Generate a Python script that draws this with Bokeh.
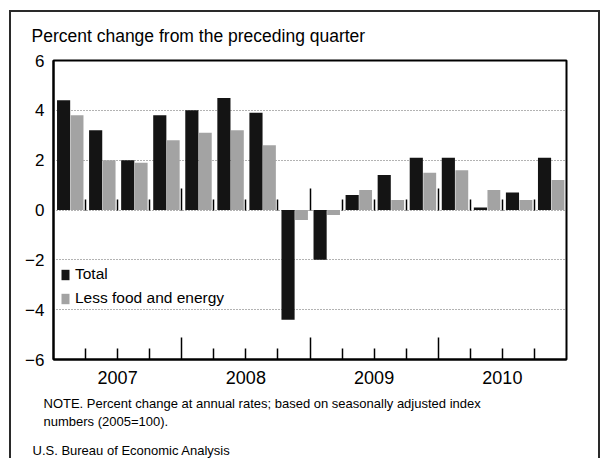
from bokeh.plotting import figure
from bokeh.models import (Range1d, FixedTicker, LinearAxis, Legend, LegendItem,
                          Title, ColumnDataSource)
from bokeh.transform import dodge
from bokeh.embed import file_html
from bokeh.resources import INLINE

# ---------------- data ----------------
quarters = ["2007Q1", "2007Q2", "2007Q3", "2007Q4",
            "2008Q1", "2008Q2", "2008Q3", "2008Q4",
            "2009Q1", "2009Q2", "2009Q3", "2009Q4",
            "2010Q1", "2010Q2", "2010Q3", "2010Q4"]
total = [4.4, 3.2, 2.0, 3.8, 4.0, 4.5, 3.9, -4.4,
         -2.0, 0.6, 1.4, 2.1, 2.1, 0.1, 0.7, 2.1]
less_food_energy = [3.8, 2.0, 1.9, 2.8, 3.1, 3.2, 2.6, -0.4,
                    -0.2, 0.8, 0.4, 1.5, 1.6, 0.8, 0.4, 1.2]
years = ["2007", "2008", "2009", "2010"]
y_ticks = [-6, -4, -2, 0, 2, 4, 6]
y_tick_labels = ["\u22126", "\u22124", "\u22122", "0", "2", "4", "6"]
series_names = ["Total", "Less food and energy"]
title_text = "Percent change from the preceding quarter"
note_lines = ["NOTE. Percent change at annual rates; based on seasonally adjusted index",
              "numbers (2005=100)."]
source_text = "U.S. Bureau of Economic Analysis"

FONT = "Liberation Sans"
BLACK = "#141414"
GRAY = "#a3a3a3"

n = len(quarters)
per_year = n // len(years)
src = ColumnDataSource(dict(q=quarters, x=[i + 0.5 for i in range(n)],
                            total=total, core=less_food_energy))

p = figure(width=591, height=448, x_range=Range1d(0, n), y_range=Range1d(-6, 6),
           output_backend="svg", toolbar_location=None,
           min_border_left=42, min_border_right=36, min_border_top=48,
           min_border_bottom=100)
p.background_fill_color = "white"
p.border_fill_color = "white"
p.outline_line_color = "black"
p.outline_line_width = 2
p.styles = {"margin-left": "9px", "margin-top": "10px",
            "border-left": "2px solid #2a2a2a", "border-top": "2px solid #2a2a2a",
            "border-right": "2px solid #2a2a2a"}

r1 = p.vbar(x=dodge("x", -0.185, range=p.x_range), top="total", width=0.41,
            source=src, fill_color=BLACK, line_color=None)
r2 = p.vbar(x=dodge("x", 0.235, range=p.x_range), top="core", width=0.40,
            source=src, fill_color=GRAY, line_color=None)

# title
p.title.text = title_text
p.title.align = "left"
p.title.vertical_align = "top"
p.title.offset = -22
p.title.standoff = 25
p.title.text_font = FONT
p.title.text_font_size = "17.5px"
p.title.text_font_style = "normal"
p.title.text_color = "black"

# y axis
p.yaxis.ticker = FixedTicker(ticks=y_ticks)
p.yaxis.major_label_overrides = {t: l for t, l in zip(y_ticks, y_tick_labels)}
p.yaxis.major_tick_in = 0
p.yaxis.major_tick_out = 0
p.yaxis.minor_tick_line_color = None
p.yaxis.axis_line_width = 2
p.yaxis.axis_line_color = "black"
p.yaxis.major_label_text_font = FONT
p.yaxis.major_label_text_font_size = "17px"
p.yaxis.major_label_text_color = "black"
p.yaxis.major_label_standoff = 9

# x axis (year labels)
year_centers = [per_year * k + per_year / 2 for k in range(len(years))]
p.xaxis.ticker = FixedTicker(ticks=year_centers)
p.xaxis.major_label_overrides = {c: y for c, y in zip(year_centers, years)}
p.xaxis.major_tick_in = 0
p.xaxis.major_tick_out = 0
p.xaxis.minor_tick_line_color = None
p.xaxis.axis_line_width = 2
p.xaxis.axis_line_color = "black"
p.xaxis.major_label_text_font = FONT
p.xaxis.major_label_text_font_size = "18px"
p.xaxis.major_label_text_color = "black"
p.xaxis.major_label_standoff = 11

# quarter-boundary tick marks at bottom and at zero line
boundaries = list(range(1, n))
year_bounds = [b for b in boundaries if b % per_year == 0]
q_bounds = [b for b in boundaries if b % per_year != 0]
for loc in (y_ticks[0], 0):
    ax = LinearAxis(fixed_location=loc,
                    ticker=FixedTicker(ticks=year_bounds, minor_ticks=q_bounds),
                    axis_line_color=None, major_tick_in=22, major_tick_out=0,
                    minor_tick_in=11, minor_tick_out=0,
                    major_tick_line_color="black", minor_tick_line_color="black",
                    major_tick_line_width=1.5, minor_tick_line_width=1.5,
                    major_label_text_color=None, major_label_text_font_size="0px")
    p.add_layout(ax, "below")

# notes and source below the chart
p.add_layout(Title(text="\n".join(note_lines), align="left", offset=-10, standoff=16,
                   text_font=FONT, text_font_size="13px", text_line_height=1.23,
                   text_font_style="normal", text_color="black"), "below")
p.add_layout(Title(text=source_text, align="left", offset=-21, standoff=6,
                   text_font=FONT, text_font_size="13px",
                   text_font_style="normal", text_color="black"), "below")

# grid
p.xgrid.visible = False
p.ygrid.ticker = FixedTicker(ticks=y_ticks[1:-1])
p.ygrid.grid_line_color = "#666666"
p.ygrid.grid_line_dash = "1 2"
p.ygrid.grid_line_width = 1

# legend
legend = Legend(items=[LegendItem(label=series_names[0], renderers=[r1]),
                       LegendItem(label=series_names[1], renderers=[r2])],
                location=(7, 51), orientation="vertical",
                border_line_color=None, background_fill_alpha=0,
                padding=0, margin=0, spacing=4, glyph_width=10, glyph_height=13,
                label_standoff=5, label_height=20,
                label_text_font=FONT, label_text_font_size="15.5px",
                label_text_color="black")
p.add_layout(legend)

open("out.html", "w").write(file_html(p, INLINE))
